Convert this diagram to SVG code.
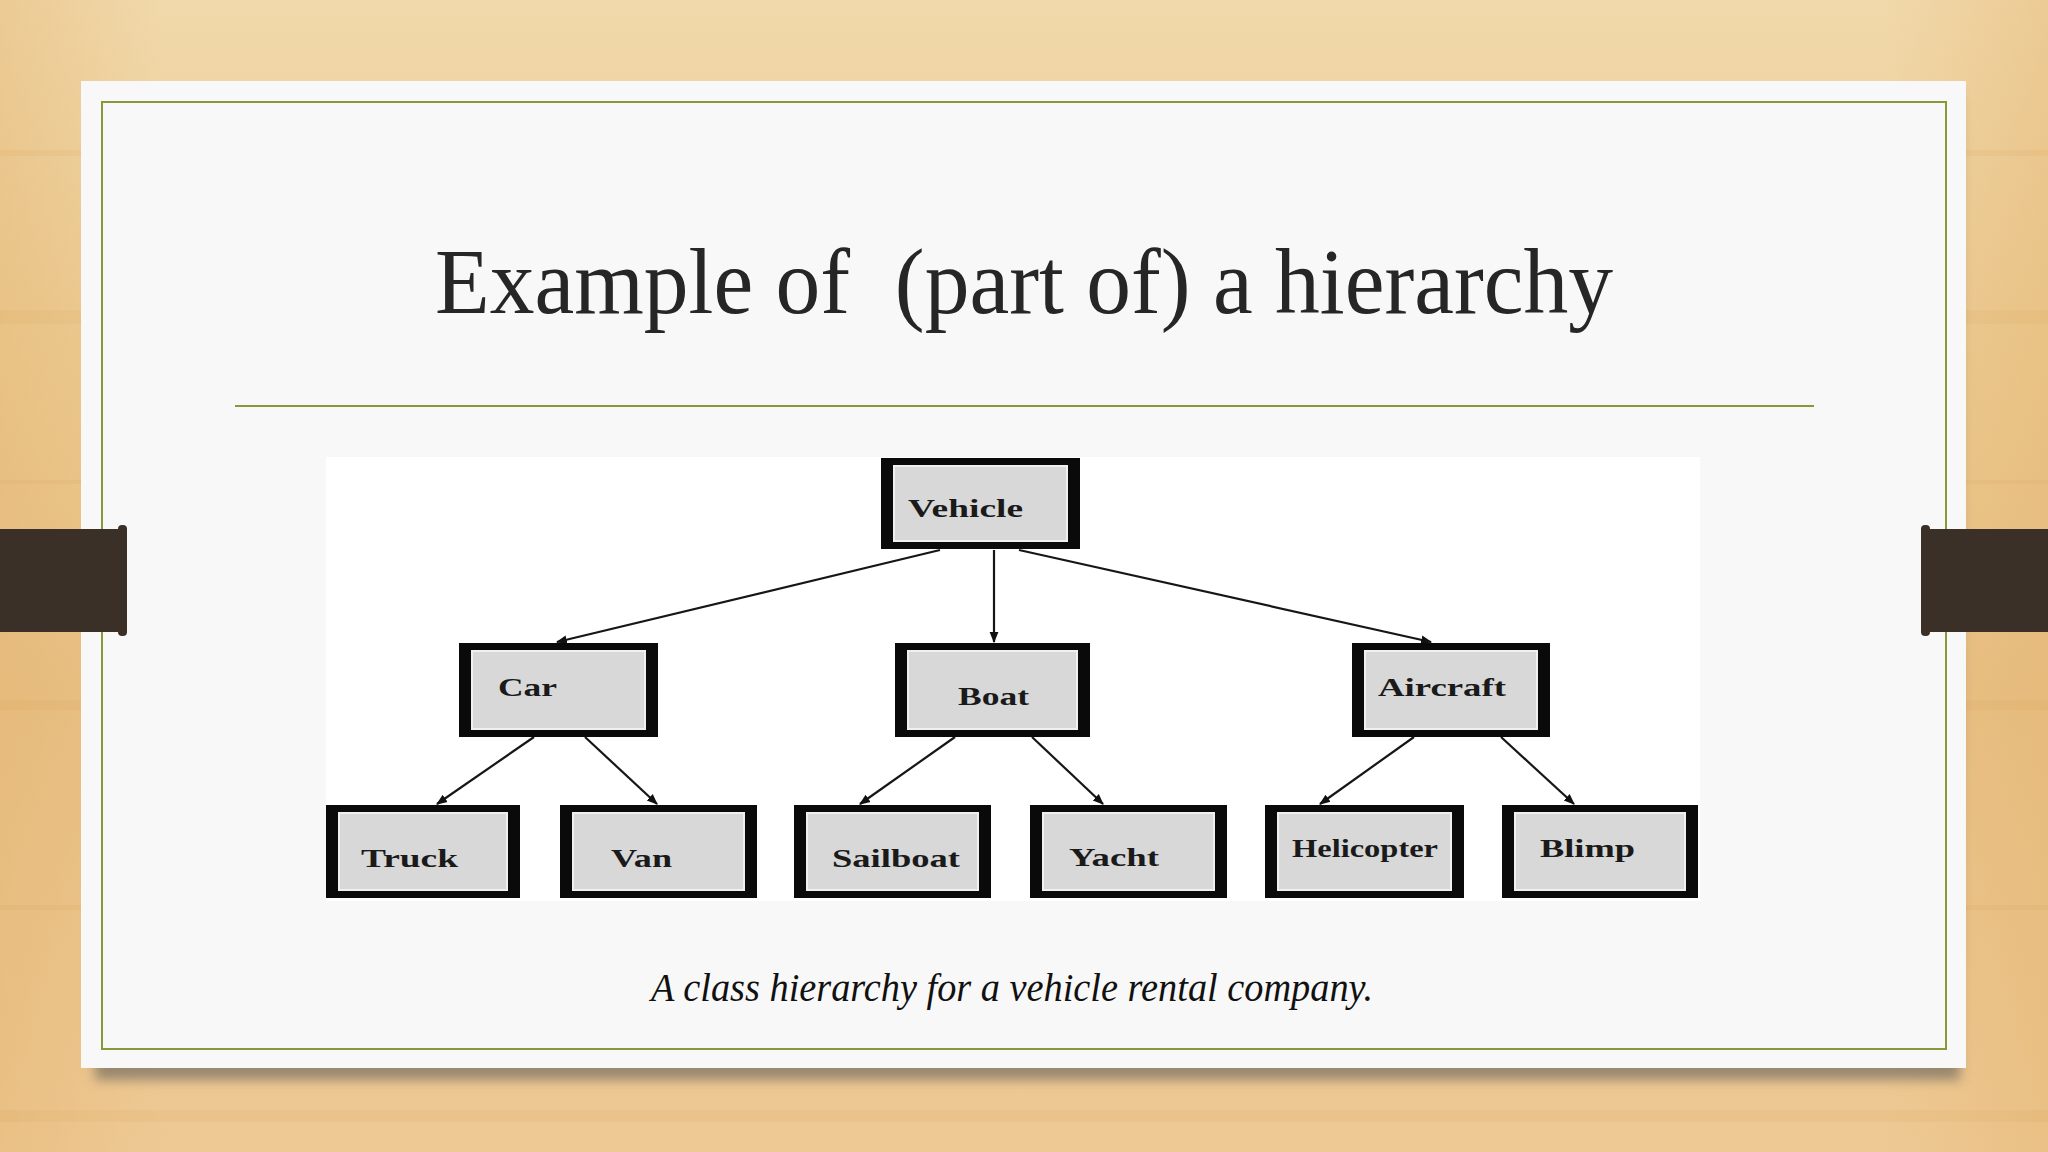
<svg xmlns="http://www.w3.org/2000/svg" width="2048" height="1152" viewBox="0 0 2048 1152">
<defs>
<linearGradient id="wood" x1="0" y1="0" x2="0" y2="1">
<stop offset="0" stop-color="#f1d9ab"/>
<stop offset="0.3" stop-color="#eccb93"/>
<stop offset="0.6" stop-color="#e8c085"/>
<stop offset="1" stop-color="#eec994"/>
</linearGradient>
<linearGradient id="woodSide" x1="0" y1="0" x2="1" y2="0">
<stop offset="0" stop-color="#e2b06a" stop-opacity="0.35"/>
<stop offset="0.08" stop-color="#e2b06a" stop-opacity="0"/>
<stop offset="0.92" stop-color="#e2b06a" stop-opacity="0"/>
<stop offset="1" stop-color="#e2b06a" stop-opacity="0.35"/>
</linearGradient>
<filter id="shadow" x="-5%" y="-5%" width="110%" height="115%">
<feGaussianBlur stdDeviation="6"/>
</filter>
<marker id="arr" viewBox="0 0 10 10" refX="9" refY="5" markerWidth="11" markerHeight="11" markerUnits="userSpaceOnUse" orient="auto">
<path d="M0,1 L10,5 L0,9 Z" fill="#111"/>
</marker>
<style>
.box{fill:#0a0a0a}
.inner{fill:#d8d8d8;stroke:#f0f0f0;stroke-width:2}
.lbl{font-family:"Liberation Serif",serif;font-weight:bold;font-size:25px;fill:#1a1a1a}
.edge{stroke:#161616;stroke-width:2.2;fill:none;marker-end:url(#arr)}
</style>
</defs>
<rect x="0" y="0" width="2048" height="1152" fill="url(#wood)"/>
<rect x="0" y="0" width="2048" height="1152" fill="url(#woodSide)"/>
<g opacity="0.12" fill="#d49f55">
<rect x="0" y="150" width="2048" height="6"/>
<rect x="0" y="310" width="2048" height="14"/>
<rect x="0" y="480" width="2048" height="4"/>
<rect x="0" y="700" width="2048" height="10"/>
<rect x="0" y="905" width="2048" height="5"/>
<rect x="0" y="1110" width="2048" height="12"/>
</g>
<rect x="95" y="95" width="1865" height="985" fill="#555" opacity="0.55" filter="url(#shadow)"/>
<rect x="81" y="81" width="1885" height="987" fill="#f8f8f8"/>
<rect x="102" y="102" width="1844" height="947" fill="none" stroke="#86993a" stroke-width="2"/>
<text x="1024" y="313" text-anchor="middle" xml:space="preserve" font-family="Liberation Serif, serif" font-size="94" fill="#262626" textLength="1178" lengthAdjust="spacingAndGlyphs">Example of  (part of) a hierarchy</text>
<line x1="235" y1="406" x2="1814" y2="406" stroke="#86993a" stroke-width="2"/>
<rect x="326" y="457" width="1374" height="444" fill="#ffffff"/>
<g id="connectors">
<line class="edge" x1="940" y1="550" x2="557" y2="642"/>
<line class="edge" x1="994" y1="550" x2="994" y2="642"/>
<line class="edge" x1="1019" y1="550" x2="1431" y2="642"/>
<line class="edge" x1="534" y1="737" x2="437" y2="804"/>
<line class="edge" x1="585" y1="737" x2="657" y2="804"/>
<line class="edge" x1="955" y1="737" x2="860" y2="804"/>
<line class="edge" x1="1032" y1="737" x2="1103" y2="804"/>
<line class="edge" x1="1414" y1="737" x2="1320" y2="804"/>
<line class="edge" x1="1501" y1="737" x2="1574" y2="804"/>
</g>
<g id="vehicle">
<rect class="box" x="881" y="458" width="199" height="91"/>
<rect class="inner" x="894" y="466" width="173" height="75"/>
<text class="lbl" x="908" y="517" textLength="115" lengthAdjust="spacingAndGlyphs">Vehicle</text>
</g>
<g id="car">
<rect class="box" x="459" y="643" width="199" height="94"/>
<rect class="inner" x="472" y="651" width="173" height="78"/>
<text class="lbl" x="498" y="696" textLength="59" lengthAdjust="spacingAndGlyphs">Car</text>
</g>
<g id="boat">
<rect class="box" x="895" y="643" width="195" height="94"/>
<rect class="inner" x="908" y="651" width="169" height="78"/>
<text class="lbl" x="958" y="705" textLength="71" lengthAdjust="spacingAndGlyphs">Boat</text>
</g>
<g id="aircraft">
<rect class="box" x="1352" y="643" width="198" height="94"/>
<rect class="inner" x="1365" y="651" width="172" height="78"/>
<text class="lbl" x="1378" y="696" textLength="128" lengthAdjust="spacingAndGlyphs">Aircraft</text>
</g>
<g id="truck">
<rect class="box" x="326" y="805" width="194" height="93"/>
<rect class="inner" x="339" y="813" width="168" height="77"/>
<text class="lbl" x="361" y="867" textLength="97" lengthAdjust="spacingAndGlyphs">Truck</text>
</g>
<g id="van">
<rect class="box" x="560" y="805" width="197" height="93"/>
<rect class="inner" x="573" y="813" width="171" height="77"/>
<text class="lbl" x="611" y="867" textLength="61" lengthAdjust="spacingAndGlyphs">Van</text>
</g>
<g id="sailboat">
<rect class="box" x="794" y="805" width="197" height="93"/>
<rect class="inner" x="807" y="813" width="171" height="77"/>
<text class="lbl" x="832" y="867" textLength="128" lengthAdjust="spacingAndGlyphs">Sailboat</text>
</g>
<g id="yacht">
<rect class="box" x="1030" y="805" width="197" height="93"/>
<rect class="inner" x="1043" y="813" width="171" height="77"/>
<text class="lbl" x="1069" y="866" textLength="90" lengthAdjust="spacingAndGlyphs">Yacht</text>
</g>
<g id="helicopter">
<rect class="box" x="1265" y="805" width="199" height="93"/>
<rect class="inner" x="1278" y="813" width="173" height="77"/>
<text class="lbl" x="1292" y="857" textLength="146" lengthAdjust="spacingAndGlyphs">Helicopter</text>
</g>
<g id="blimp">
<rect class="box" x="1502" y="805" width="196" height="93"/>
<rect class="inner" x="1515" y="813" width="170" height="77"/>
<text class="lbl" x="1540" y="857" textLength="95" lengthAdjust="spacingAndGlyphs">Blimp</text>
</g>
<text x="651" y="1001" font-family="Liberation Serif, serif" font-style="italic" font-size="40" fill="#111" textLength="722" lengthAdjust="spacingAndGlyphs">A class hierarchy for a vehicle rental company.</text>
<g fill="#3a3027">
<rect x="0" y="529" width="125" height="103"/>
<rect x="118" y="525" width="9" height="111" rx="4"/>
<rect x="1923" y="529" width="125" height="103"/>
<rect x="1921" y="525" width="9" height="111" rx="4"/>
</g>
</svg>
